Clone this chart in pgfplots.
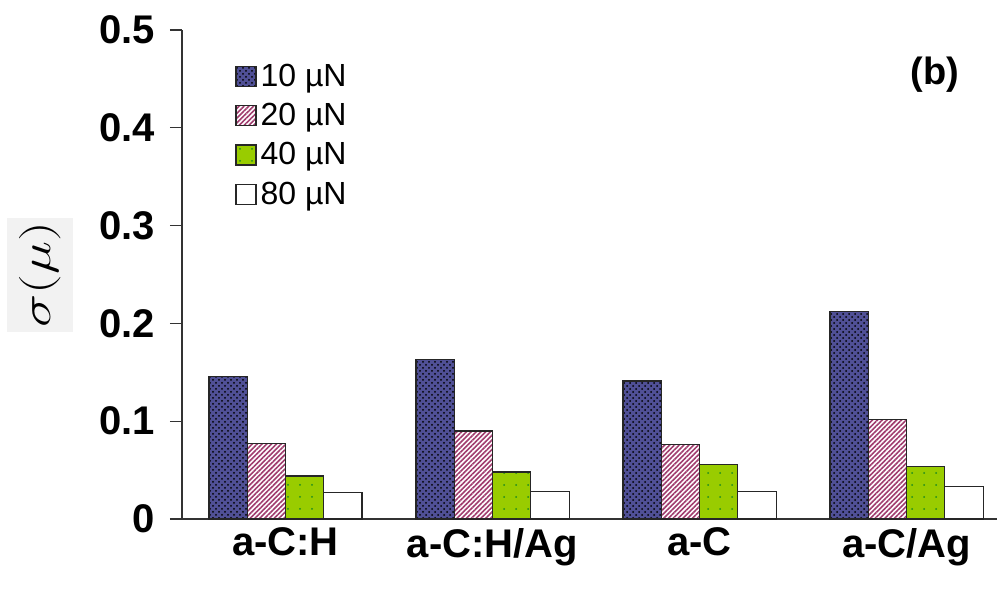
\documentclass[border=0pt]{standalone}
\usepackage{fontspec}
\setmainfont{Liberation Sans}
\usepackage{pgfplots}
\pgfplotsset{compat=1.18}
\usetikzlibrary{patterns,patterns.meta}
\definecolor{navybar}{RGB}{80,80,150}
\definecolor{pinkline}{RGB}{160,60,110}
\definecolor{greenbar}{RGB}{153,204,0}
\definecolor{greendot}{RGB}{30,140,30}
\begin{document}
\begin{tikzpicture}
\begin{axis}[
  scale only axis,
  width=407.5pt, height=244.5pt,
  ybar=0pt, bar width=0.185,
  xmin=-0.5, xmax=3.437,
  ymin=0, ymax=0.5,
  axis x line*=bottom, axis y line*=left,
  xtick={0,1,2,3},
  xticklabels={a-C:H, a-C:H/Ag, a-C, a-C/Ag},
  x tick style={draw=none},
  ytick={0,0.1,0.2,0.3,0.4,0.5},
  yticklabels={0,0.1,0.2,0.3,0.4,0.5},
  tick align=outside,
  major tick length=6pt,
  y tick style={black!80, line width=0.6pt},
  axis line style={black!80, line width=0.6pt},
  every tick label/.append style={font=\fontsize{20}{24}\selectfont\bfseries},
  yticklabel style={xshift=-4pt},
  xticklabel style={yshift=5pt},
  /pgf/number format/assume math mode=true,
  ylabel={\scalebox{1.35}[1]{\fontsize{22}{26}\selectfont$\sigma(\mu)$}},
  ylabel style={at={(axis description cs:-0.174,0.499)}, anchor=center, rotate=0, fill=gray!10, inner xsep=2pt, inner ysep=6pt},
  legend style={draw=none, fill=none, at={(rel axis cs:0.065,0.94)}, anchor=north west,
    font=\fontsize{16}{18}\selectfont, row sep=3pt, inner sep=0pt},
  legend cell align=left,
  legend image code/.code={\draw[#1] (0pt,-5pt) rectangle (10pt,5pt);},
  clip=false,
]
\addplot[draw=black!85, line width=0.6pt, fill=navybar, postaction={pattern=crosshatch dots, pattern color=black}]
  coordinates {(0,0.146) (1,0.163) (2,0.141) (3,0.212)};
\addplot[draw=black!85, line width=0.6pt, fill=white, postaction={pattern={Lines[angle=45,distance=1.7pt,line width=0.8pt]}, pattern color=pinkline}]
  coordinates {(0,0.077) (1,0.090) (2,0.076) (3,0.102)};
\addplot[draw=black!85, line width=0.6pt, fill=greenbar, postaction={pattern={Dots[distance=6pt,radius=0.5pt]}, pattern color=greendot}]
  coordinates {(0,0.044) (1,0.048) (2,0.056) (3,0.054)};
\addplot[draw=black!85, line width=0.6pt, fill=white]
  coordinates {(0,0.027) (1,0.028) (2,0.028) (3,0.033)};
\legend{10 µN, 20 µN, 40 µN, 80 µN}
\node[font=\fontsize{19}{22}\selectfont\bfseries] at (rel axis cs:0.924,0.908) {(b)};
\end{axis}
\pgfresetboundingbox
\path (-91pt,-43pt) rectangle (407.5pt,259.5pt);
\end{tikzpicture}
\end{document}
